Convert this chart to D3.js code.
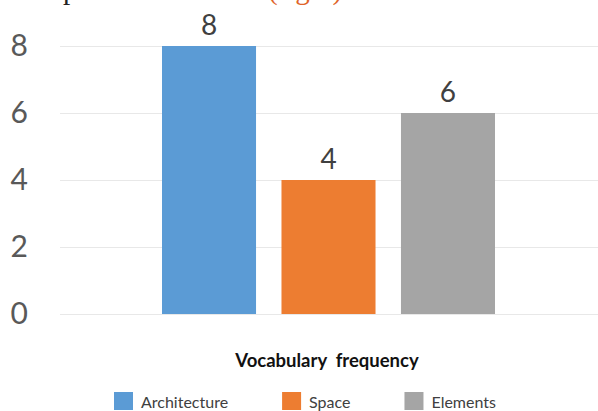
<!DOCTYPE html>
<html>
<head>
<meta charset="utf-8">
<script src="https://cdn.jsdelivr.net/npm/d3@7"></script>
<style>
  body { margin: 0; background: #fff; }
  svg { display: block; }
</style>
</head>
<body>
<div id="chart"></div>
<script>
var svgWidth = 598;
var svgHeight = 411;

// chart data
var seriesNames = ["Architecture", "Space", "Elements"];
var seriesValues = [8, 4, 6];
var seriesColors = ["#5b9bd5", "#ed7d31", "#a5a5a5"];
var yTicks = [0, 2, 4, 6, 8];
var axisTitle = "Vocabulary\u00a0\u00a0frequency";

var plot = { left: 60, right: 598, top: 46, bottom: 314 };

var svg = d3.select("#chart")
  .append("svg")
  .attr("width", svgWidth)
  .attr("height", svgHeight);

// cropped caption fragments at the very top (cut off in the source too)
svg.append("text")
  .attr("x", 63)
  .attr("y", -1.5)
  .attr("font-family", "Liberation Serif, serif")
  .attr("font-size", "29px")
  .attr("fill", "#222")
  .text("p");

svg.append("text")
  .attr("x", 268)
  .attr("y", -1.5)
  .attr("font-family", "Liberation Serif, serif")
  .attr("font-size", "29px")
  .attr("fill", "#e0652b")
  .text("(right)");

var y = d3.scaleLinear()
  .domain([0, 8])
  .range([plot.bottom, plot.top]);

var x = d3.scaleBand()
  .domain(seriesNames)
  .range([162, 495])
  .paddingInner(0.213)
  .paddingOuter(0);

// gridlines
var grid = svg.append("g")
  .attr("transform", `translate(${plot.left}, 0)`)
  .call(d3.axisLeft(y).tickValues(yTicks).tickSize(-(plot.right - plot.left)).tickFormat(""));
grid.select(".domain").remove();
grid.selectAll("line").attr("stroke", "#e8e8e8").attr("stroke-width", 1);

// y axis labels
var yAxis = svg.append("g")
  .attr("transform", `translate(${plot.left}, 0)`)
  .call(d3.axisLeft(y).tickValues(yTicks).tickSize(0).tickPadding(32));
yAxis.select(".domain").remove();
yAxis.selectAll("text")
  .attr("font-family", "Lato, sans-serif")
  .attr("font-size", "30px")
  .attr("fill", "#595959");

// bars
svg.selectAll("rect.bar")
  .data(seriesValues)
  .enter()
  .append("rect")
  .attr("class", "bar")
  .attr("x", (d, i) => x(seriesNames[i]))
  .attr("y", d => y(d))
  .attr("width", x.bandwidth())
  .attr("height", d => y(0) - y(d))
  .attr("fill", (d, i) => seriesColors[i]);

// value labels
svg.selectAll("text.value")
  .data(seriesValues)
  .enter()
  .append("text")
  .attr("class", "value")
  .attr("x", (d, i) => x(seriesNames[i]) + x.bandwidth() / 2)
  .attr("y", d => y(d) - 11)
  .attr("text-anchor", "middle")
  .attr("font-family", "Lato, sans-serif")
  .attr("font-size", "28px")
  .attr("fill", "#404040")
  .text(d => d);

// axis title
svg.append("text")
  .attr("x", 327)
  .attr("y", 367)
  .attr("text-anchor", "middle")
  .attr("font-family", "Lato, sans-serif")
  .attr("font-weight", "bold")
  .attr("font-size", "18.5px")
  .attr("fill", "#111")
  .text(axisTitle);

// legend, laid out left to right from measured text widths
var legendX = 114;
seriesNames.forEach(function(name, i) {
  var item = svg.append("g").attr("transform", `translate(${legendX}, 392)`);
  item.append("rect")
    .attr("width", 19)
    .attr("height", 18)
    .attr("fill", seriesColors[i]);
  var label = item.append("text")
    .attr("x", 27)
    .attr("y", 16)
    .attr("font-family", "Lato, sans-serif")
    .attr("font-size", "16px")
    .attr("fill", "#404040")
    .text(name);
  legendX += 27 + label.node().getComputedTextLength() + 54;
});
</script>
</body>
</html>
